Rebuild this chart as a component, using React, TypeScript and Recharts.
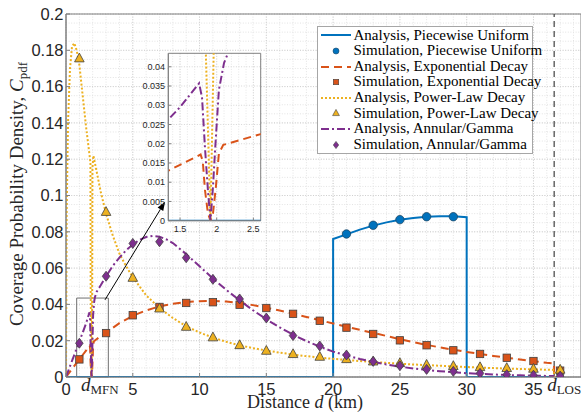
import React from 'react';
import { ComposedChart, Line, Scatter, XAxis, YAxis, CartesianGrid, ReferenceLine, ReferenceArea } from 'recharts';

const BLUE = '#0072BD';
const ORANGE = '#D95319';
const YELLOW = '#EDB120';
const PURPLE = '#7E2F8E';
const AXIS = '#808080';
const TXT = '#262626';
const SANS = '"Liberation Sans", Arial, sans-serif';
const SERIF = '"Liberation Serif", "Times New Roman", serif';

const X_MAX = 38.56;
const D_MFN = 1.915;
const D_LOS = 36.55;

// analysis: piecewise uniform
const puX = [0, 20, 20, 21, 22, 23, 24, 25, 26, 27, 28, 29, 30, 30, D_LOS];
const puY = [0, 0, 0.076, 0.0786, 0.0812, 0.0834, 0.0852, 0.0866, 0.0876, 0.0883, 0.0886, 0.0885, 0.088, 0, 0];

// analysis: exponential decay
const expX = [0, 0.5, 1, 1.5, 1.78, 1.81, 1.84, 1.88, 1.915, 1.95, 1.99, 2.03, 2.09, 2.6, 3,
  4, 5, 6, 7, 8, 9, 10, 11, 12, 13, 14, 15, 16, 17, 18, 19, 20, 21, 22, 23, 24, 25, 26, 27, 28, 29, 30,
  31, 32, 33, 34, 35, 36, D_LOS, D_LOS];
const expY = [0, 0.0049, 0.0098, 0.0145, 0.0172, 0.0155, 0.008, 0.002, 0, 0.002, 0.009, 0.0175, 0.0197, 0.0225, 0.0244,
  0.0297, 0.0337, 0.0367, 0.0389, 0.0404, 0.0413, 0.0418, 0.0419, 0.0416, 0.0408, 0.0396, 0.0382, 0.0366, 0.0349, 0.0331,
  0.0313, 0.0295, 0.0277, 0.026, 0.0243, 0.0226, 0.0208, 0.0192, 0.0177, 0.0163, 0.015, 0.0138, 0.0127, 0.0116, 0.0106,
  0.0096, 0.0087, 0.0078, 0.0074, 0];

// analysis: power-law decay
const plX = [0, 0.05, 0.15, 0.3, 0.45, 0.62, 0.8, 1, 1.25, 1.5, 1.75, 1.83, 1.85, 1.915, 1.96, 1.98, 2.05, 2.3, 2.6, 3,
  3.5, 4, 4.5, 5, 6, 7, 8, 9, 10, 11, 12, 13, 14, 15, 16, 17, 18, 19, 20, 22, 24, 26, 28, 30, 32, 34, 36, D_LOS, D_LOS];
const plY = [0, 0.09, 0.14, 0.17, 0.182, 0.184, 0.18, 0.172, 0.155, 0.138, 0.123, 0.118, 0.045, 0, 0.045, 0.115, 0.122,
  0.113, 0.102, 0.09, 0.078, 0.068, 0.061, 0.055, 0.045, 0.038, 0.0325, 0.028, 0.0245, 0.0217, 0.0194, 0.0175, 0.0159,
  0.0146, 0.0134, 0.0124, 0.0115, 0.0107, 0.01, 0.0088, 0.0078, 0.0069, 0.0062, 0.0055, 0.0049, 0.0044, 0.004, 0.0039, 0];

// analysis: annular / gamma
const agX = [0, 0.5, 1, 1.5, 1.76, 1.8, 1.84, 1.88, 1.915, 1.95, 1.98, 2.03, 2.1, 2.16, 2.3, 2.6, 3, 3.5, 4, 4.5, 5,
  5.5, 6, 6.5, 7, 7.5, 8, 9, 10, 11, 12, 13, 14, 15, 16, 17, 18, 19, 20, 21, 22, 23, 24, 25, 26, 27, 28, 29, 30, 31,
  32, 33, 34, 35, 36, D_LOS];
const agY = [0, 0.0099, 0.0195, 0.0295, 0.0357, 0.032, 0.019, 0.008, 0, 0.009, 0.019, 0.034, 0.041, 0.0438, 0.047,
  0.0505, 0.0555, 0.0612, 0.0658, 0.0698, 0.073, 0.0755, 0.0771, 0.0777, 0.0773, 0.0759, 0.0738, 0.0677, 0.061, 0.0543,
  0.048, 0.0422, 0.0368, 0.0318, 0.0273, 0.0233, 0.0198, 0.0167, 0.014, 0.0118, 0.0099, 0.0083, 0.0069, 0.0057, 0.0047,
  0.0039, 0.0032, 0.0026, 0.0021, 0.0017, 0.0014, 0.0011, 0.0009, 0.0007, 0.0006, 0.0005];

// simulations
const puSimX = [21, 23, 25, 27, 29];
const puSimY = [0.0788, 0.0836, 0.0867, 0.0883, 0.0883];
const simX = [1, 3, 5, 7, 9, 11, 13, 15, 17, 19, 21, 23, 25, 27, 29, 31, 33, 35, 37];
const expSimY = [0.0097, 0.0242, 0.034, 0.0386, 0.0408, 0.0412, 0.0398, 0.038, 0.0348, 0.031, 0.0272, 0.0237, 0.0202,
  0.0175, 0.0147, 0.0127, 0.0106, 0.0088, 0.0035];
const plSimY = [0.1756, 0.091, 0.0547, 0.0378, 0.0277, 0.0219, 0.0176, 0.0145, 0.0127, 0.0112, 0.0099, 0.0086, 0.0077,
  0.0068, 0.0061, 0.0055, 0.005, 0.0046, 0.0041];
const agSimY = [0.0186, 0.0555, 0.0736, 0.0745, 0.0657, 0.0538, 0.043, 0.0325, 0.0228, 0.0171, 0.0121, 0.0086, 0.0062,
  0.0042, 0.0031, 0.002, 0.0013, 0.001, 0.0005];

const xTicks = [0, 5, 10, 15, 20, 25, 30, 35];
const yTicks = [0, 0.02, 0.04, 0.06, 0.08, 0.1, 0.12, 0.14, 0.16, 0.18, 0.2];
const xMinor = Array.from({ length: 39 }, (_, i) => i);
const yMinor = Array.from({ length: 41 }, (_, i) => i * 0.005);

const insetXTicks = [1.5, 2, 2.5];
const insetYTicks = [0, 0.005, 0.01, 0.015, 0.02, 0.025, 0.03, 0.035, 0.04];
const insetXMinor = [1.4, 1.5, 1.6, 1.7, 1.8, 1.9, 2, 2.1, 2.2, 2.3, 2.4, 2.5, 2.6];
const INSET_X: [number, number] = [1.34, 2.6];
const INSET_Y_MAX = 0.0435;

const pts = (xs: number[], ys: number[]) => xs.map((x, i) => ({ x, y: ys[i] }));

const fmt = (v: number) => String(Math.round(v * 1000) / 1000);

// grid line positions from the axis scale (falls back to the plot offset)
const vGen = (vals: number[], dom: [number, number]) => (args: any) => {
  const s = args?.xAxis?.scale;
  if (typeof s === 'function') return vals.map((v) => s(v));
  const o = args.offset;
  return vals.map((v) => o.left + ((v - dom[0]) / (dom[1] - dom[0])) * o.width);
};
const hGen = (vals: number[], dom: [number, number]) => (args: any) => {
  const s = args?.yAxis?.scale;
  if (typeof s === 'function') return vals.map((v) => s(v));
  const o = args.offset;
  return vals.map((v) => o.top + o.height - ((v - dom[0]) / (dom[1] - dom[0])) * o.height);
};

const EDGE = '#404040';

const Circle = (p: any) => <circle cx={p.cx} cy={p.cy} r={4.2} fill={BLUE} stroke="#1d4766" strokeWidth={0.8} />;
const Square = (p: any) => <rect x={p.cx - 3.7} y={p.cy - 3.7} width={7.4} height={7.4} fill={ORANGE} stroke={EDGE} strokeWidth={0.8} />;
const Triangle = (p: any) => (
  <polygon points={`${p.cx},${p.cy - 5.2} ${p.cx - 4.8},${p.cy + 3.6} ${p.cx + 4.8},${p.cy + 3.6}`} fill={YELLOW} stroke={EDGE} strokeWidth={0.8} />
);
const Diamond = (p: any) => (
  <polygon points={`${p.cx},${p.cy - 5} ${p.cx - 3.8},${p.cy} ${p.cx},${p.cy + 5} ${p.cx + 3.8},${p.cy}`} fill={PURPLE} stroke={EDGE} strokeWidth={0.8} />
);

const Arrow = (p: any) => {
  const { x1, y1, x2, y2 } = p;
  const a = Math.atan2(y2 - y1, x2 - x1);
  const L = 9;
  const w = 3.3;
  const bx = x2 - L * Math.cos(a);
  const by = y2 - L * Math.sin(a);
  const px = -Math.sin(a) * w;
  const py = Math.cos(a) * w;
  return (
    <g>
      <line x1={x1} y1={y1} x2={bx} y2={by} stroke="#000" strokeWidth={1} />
      <polygon points={`${x2},${y2} ${bx + px},${by + py} ${bx - px},${by - py}`} fill="#000" />
    </g>
  );
};

const DLabel = ({ viewBox, sub, dx }: any) => {
  if (!viewBox) return null;
  const bottom = viewBox.y + viewBox.height;
  return (
    <text x={viewBox.x + dx} y={bottom + 14} fill={TXT} fontFamily={SERIF} fontSize={19}>
      <tspan fontStyle="italic">d</tspan>
      <tspan fontSize={13} dy={3}>{sub}</tspan>
    </text>
  );
};

const legendRows = [
  { label: 'Analysis, Piecewise Uniform', kind: 'line', color: BLUE, dash: undefined },
  { label: 'Simulation, Piecewise Uniform', kind: 'circle', color: BLUE },
  { label: 'Analysis, Exponential Decay', kind: 'line', color: ORANGE, dash: '8 5' },
  { label: 'Simulation, Exponential Decay', kind: 'square', color: ORANGE },
  { label: 'Analysis, Power-Law Decay', kind: 'line', color: YELLOW, dash: '2 2' },
  { label: 'Simulation, Power-Law Decay', kind: 'triangle', color: YELLOW },
  { label: 'Analysis, Annular/Gamma', kind: 'line', color: PURPLE, dash: '8 3 2 3' },
  { label: 'Simulation, Annular/Gamma', kind: 'diamond', color: PURPLE },
];

const LegendSample = ({ kind, color, dash }: any) => {
  const cx = 15;
  const cy = 8;
  let el: any = null;
  if (kind === 'line') el = <line x1={0} y1={cy} x2={30} y2={cy} stroke={color} strokeWidth={2} strokeDasharray={dash} />;
  if (kind === 'circle') el = <circle cx={cx} cy={cy} r={3} fill={color} stroke="#1d4766" strokeWidth={0.6} />;
  if (kind === 'square') el = <rect x={cx - 2.7} y={cy - 2.7} width={5.4} height={5.4} fill={color} stroke={EDGE} strokeWidth={0.6} />;
  if (kind === 'triangle') el = <polygon points={`${cx},${cy - 3.6} ${cx - 3.4},${cy + 2.6} ${cx + 3.4},${cy + 2.6}`} fill={color} stroke={EDGE} strokeWidth={0.6} />;
  if (kind === 'diamond') el = <polygon points={`${cx},${cy - 3.6} ${cx - 2.7},${cy} ${cx},${cy + 3.6} ${cx + 2.7},${cy}`} fill={color} stroke={EDGE} strokeWidth={0.6} />;
  return <svg width={30} height={16} style={{ display: 'block', flex: 'none' }}>{el}</svg>;
};

const LegendBox = () => (
  <div
    style={{
      position: 'absolute', left: 317, top: 26, width: 216, height: 127.5, background: '#fff',
      border: '1px solid #a6a6a6', boxSizing: 'border-box', paddingTop: 0.7, paddingLeft: 3,
      fontFamily: SERIF, fontSize: 15, color: '#000',
    }}
  >
    {legendRows.map((r) => (
      <div key={r.label} style={{ display: 'flex', alignItems: 'center', height: 15.6, whiteSpace: 'nowrap' }}>
        <LegendSample kind={r.kind} color={r.color} dash={r.dash} />
        <span style={{ marginLeft: 2.5, lineHeight: '15.6px' }}>{r.label}</span>
      </div>
    ))}
  </div>
);

const lineProps = { dot: false, activeDot: false, isAnimationActive: false, strokeWidth: 2, dataKey: 'y' } as const;

const MainChart = () => (
  <ComposedChart
    width={600}
    height={412}
    margin={{ top: 14, right: 19, bottom: 0, left: 0 }}
    style={{ position: 'absolute', left: 0, top: 0 }}
  >
    <CartesianGrid
      stroke="#e3e3e3" strokeDasharray="1 1.6"
      verticalCoordinatesGenerator={vGen(xMinor, [0, X_MAX])}
      horizontalCoordinatesGenerator={hGen(yMinor, [0, 0.2])}
    />
    <CartesianGrid
      stroke="#d0d0d0" strokeDasharray="1 1.6"
      verticalCoordinatesGenerator={vGen(xTicks, [0, X_MAX])}
      horizontalCoordinatesGenerator={hGen(yTicks, [0, 0.2])}
    />
    <XAxis
      type="number" dataKey="x" domain={[0, X_MAX]} ticks={xTicks} interval={0} height={35} allowDataOverflow
      tickSize={-4} tickMargin={10.5} axisLine={{ stroke: AXIS }} tickLine={{ stroke: AXIS }}
      tick={{ fill: TXT, fontSize: 16.5, fontFamily: SANS }}
    />
    <YAxis
      type="number" dataKey="y" domain={[0, 0.2]} ticks={yTicks} interval={0} width={66} allowDataOverflow
      tickSize={-4} tickMargin={6.5} tickFormatter={fmt} axisLine={{ stroke: AXIS }} tickLine={{ stroke: AXIS }}
      tick={{ fill: TXT, fontSize: 16.5, fontFamily: SANS }}
    />
    <ReferenceArea x1={0} x2={X_MAX} y1={0} y2={0.2} fill="none" stroke={AXIS} strokeWidth={1} />
    <ReferenceArea x1={0.8} x2={3.17} y1={0} y2={INSET_Y_MAX} fill="none" stroke="#707070" strokeWidth={1} />
    <ReferenceLine x={D_LOS} stroke="#404040" strokeWidth={1.2} strokeDasharray="6 4" label={<DLabel sub="LOS" dx={-7} />} />
    <ReferenceLine x={D_MFN} stroke="none" label={<DLabel sub="MFN" dx={-10.5} />} />
    <Line {...lineProps} data={pts(puX, puY)} stroke={BLUE} />
    <Scatter data={pts(puSimX, puSimY)} dataKey="y" shape={Circle} isAnimationActive={false} />
    <Line {...lineProps} data={pts(expX, expY)} stroke={ORANGE} strokeDasharray="8 5" />
    <Scatter data={pts(simX, expSimY)} dataKey="y" shape={Square} isAnimationActive={false} />
    <Line {...lineProps} data={pts(plX, plY)} stroke={YELLOW} strokeDasharray="2 2" />
    <Scatter data={pts(simX, plSimY)} dataKey="y" shape={Triangle} isAnimationActive={false} />
    <Line {...lineProps} data={pts(agX, agY)} stroke={PURPLE} strokeDasharray="8 3 2 3" />
    <Scatter data={pts(simX, agSimY)} dataKey="y" shape={Diamond} isAnimationActive={false} />
    <ReferenceLine segment={[{ x: 2.92, y: 0.0425 }, { x: 7.42, y: 0.0966 }]} shape={Arrow} />
  </ComposedChart>
);

const InsetChart = () => (
  <ComposedChart
    width={140}
    height={190}
    margin={{ top: 8.3, right: 7.3, bottom: 0, left: 0 }}
    style={{ position: 'absolute', left: 128, top: 45 }}
  >
    <CartesianGrid
      fill="#fff" fillOpacity={1} stroke="#e6e6e6" strokeDasharray="1 1.6" horizontal={false}
      verticalCoordinatesGenerator={vGen(insetXMinor, INSET_X)}
    />
    <CartesianGrid
      stroke="#d6d6d6" strokeDasharray="1 1.6"
      verticalCoordinatesGenerator={vGen(insetXTicks, INSET_X)}
      horizontalCoordinatesGenerator={hGen(insetYTicks, [0, INSET_Y_MAX])}
    />
    <XAxis
      type="number" dataKey="x" domain={INSET_X} ticks={insetXTicks} interval={0} height={14.3} allowDataOverflow
      tickSize={-3} tickMargin={7.5} axisLine={{ stroke: AXIS }} tickLine={{ stroke: AXIS }}
      tick={{ fill: TXT, fontSize: 9, fontFamily: SANS }}
    />
    <YAxis
      type="number" dataKey="y" domain={[0, INSET_Y_MAX]} ticks={insetYTicks} interval={0} width={40.3} allowDataOverflow
      tickSize={-3} tickMargin={6.3} tickFormatter={fmt} axisLine={{ stroke: AXIS }} tickLine={{ stroke: AXIS }}
      tick={{ fill: TXT, fontSize: 9, fontFamily: SANS }}
    />
    <Line {...lineProps} data={pts(puX, puY)} stroke={BLUE} />
    <Line {...lineProps} data={pts(expX, expY)} stroke={ORANGE} strokeDasharray="8 5" />
    <Line {...lineProps} data={pts(plX, plY)} stroke={YELLOW} strokeDasharray="2 2" />
    <Line {...lineProps} data={pts(agX, agY)} stroke={PURPLE} strokeDasharray="8 3 2 3" />
    <ReferenceArea x1={INSET_X[0]} x2={INSET_X[1]} y1={0} y2={INSET_Y_MAX} fill="none" stroke={AXIS} strokeWidth={1} />
  </ComposedChart>
);

const AxisTitles = () => (
  <svg width={581} height={412} style={{ position: 'absolute', left: 0, top: 0, pointerEvents: 'none' }}>
    <text x={305} y={408} textAnchor="middle" fill={TXT} fontFamily={SERIF} fontSize={18}>
      Distance <tspan fontStyle="italic">d</tspan> (km)
    </text>
    <text x={22.5} y={194} textAnchor="middle" fill={TXT} fontFamily={SERIF} fontSize={19} transform="rotate(-90 22.5 194)">
      Coverage Probability Density, <tspan fontStyle="italic">C</tspan>
      <tspan fontSize={13} dy={4}>pdf</tspan>
    </text>
  </svg>
);

export default function App() {
  return (
    <div style={{ position: 'absolute', left: 0, top: 0, width: 581, height: 412, overflow: 'hidden', background: '#fff' }}>
      <MainChart />
      <InsetChart />
      <LegendBox />
      <AxisTitles />
    </div>
  );
}
